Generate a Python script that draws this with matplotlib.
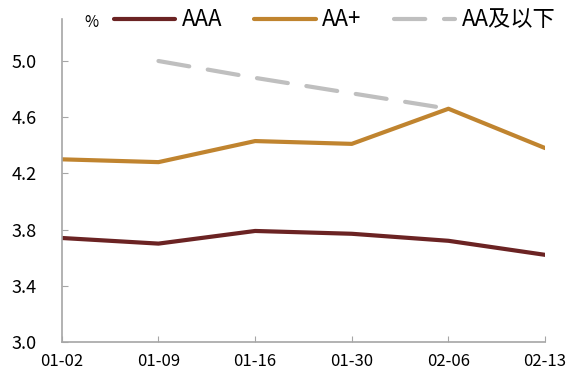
import matplotlib.pyplot as plt

plt.rcParams['font.family'] = ['Noto Sans CJK SC', 'DejaVu Sans']

dates = ['01-02', '01-09', '01-16', '01-30', '02-06', '02-13']
aaa = [3.74, 3.70, 3.79, 3.77, 3.72, 3.62]
aa_plus = [4.30, 4.28, 4.43, 4.41, 4.66, 4.38]
aa_below = [None, 5.00, 4.88, 4.77, 4.66, None]
yticks = [3.0, 3.4, 3.8, 4.2, 4.6, 5.0]


def main():
    fig = plt.figure(figsize=(5.83, 3.77), dpi=100)
    ax = fig.add_axes([0.106, 0.093, 0.829, 0.857])
    x = list(range(len(dates)))

    ax.plot(x, aaa, color='#6B2323', lw=3, label='AAA', solid_capstyle='round')
    ax.plot(x, aa_plus, color='#C0842F', lw=3, label='AA+', solid_capstyle='round')
    xb = [i for i, v in zip(x, aa_below) if v is not None]
    yb = [v for v in aa_below if v is not None]
    ax.plot(xb, yb, color='#BFBFBF', lw=3, ls=(0, (7.5, 4.5)), label='AA及以下',
            dash_capstyle='round')

    ax.set_xlim(0, 5)
    ax.set_ylim(3.0, 5.3)
    ax.set_xticks(x)
    ax.set_xticklabels(dates)
    ax.set_yticks(yticks)
    ax.set_yticklabels(['%.1f' % v for v in yticks], fontsize=13)
    for s in ['top', 'right']:
        ax.spines[s].set_visible(False)
    for s in ['left', 'bottom']:
        ax.spines[s].set_color('#A6A6A6')
        ax.spines[s].set_linewidth(1.2)
    ax.tick_params(direction='in', length=4, color='#A6A6A6', labelsize=12,
                   labelcolor='black')
    ax.tick_params(axis='x', pad=8)
    ax.tick_params(axis='y', pad=18, labelsize=13)

    fig.text(0.145, 0.94, '%', fontsize=11, ha='left', va='center')
    fig.legend(loc='center left', bbox_to_anchor=(114 / 583, 1 - 20 / 377), ncol=3,
               frameon=False, fontsize=16, handlelength=2.75, handletextpad=0.3,
               columnspacing=1.45, borderaxespad=0, borderpad=0)

    fig.savefig('out.png', dpi=100)


if __name__ == "__main__":
    main()
